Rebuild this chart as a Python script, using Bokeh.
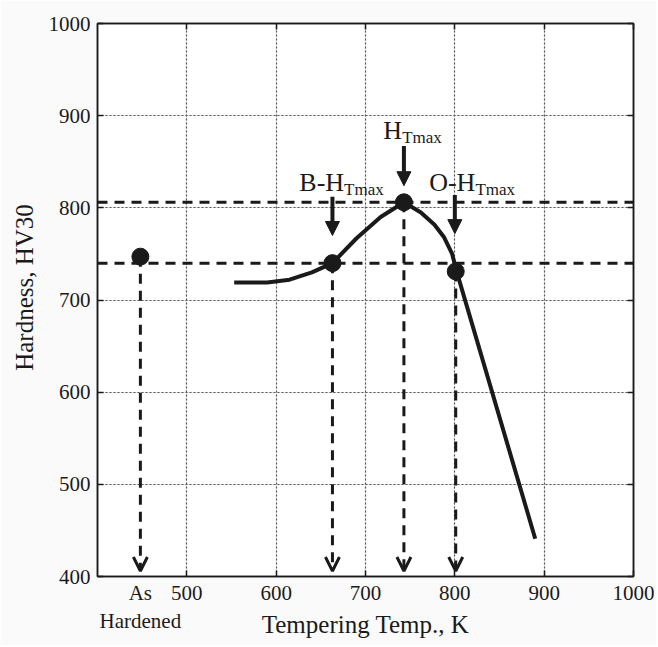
from bokeh.plotting import figure
from bokeh.models import Span, Arrow, NormalHead, OpenHead, FixedTicker, LinearAxis, Range1d, ColumnDataSource, Grid
from bokeh.embed import file_html
from bokeh.resources import INLINE
from bokeh.core.properties import value

# ---- data ----
curve_temp = [553, 590, 615, 640, 663, 690, 717, 743, 762, 777, 788, 797, 802, 890]
curve_hv = [719, 719, 722, 730, 740, 767, 790, 806, 795, 782, 768, 750, 731, 441]

point_temp = [448, 663, 743, 801]
point_hv = [747, 740, 806, 731]

level_hv = [806, 740]          # horizontal dashed reference levels
drop_end_hv = 406              # vertical dashed arrows end here

pointer_temp = [663, 743, 800]
pointer_top_hv = [812, 867, 814]
pointer_tip_hv = [770, 824, 772]

label_main = ["B-H", "H", "O-H"]
label_sub = ["Tmax", "Tmax", "Tmax"]
label_temp = [676, 741, 823]
label_hv = [828, 884, 828]

as_hardened_temp = 448
as_hardened_text = "As\nHardened"

x_ticks = [500, 600, 700, 800, 900, 1000]
y_ticks = [400, 500, 600, 700, 800, 900, 1000]

FONT = "Liberation Serif"
INK = "#1a1a1a"
BG = "#fafafa"
NB = "\u00a0"

p = figure(width=656, height=645, output_backend="svg", toolbar_location=None,
           x_range=Range1d(400, 1000), y_range=Range1d(400, 1000),
           x_axis_location=None, y_axis_location=None,
           min_border_left=97, min_border_right=23, min_border_top=23, min_border_bottom=69)
p.background_fill_color = "white"
p.border_fill_color = BG
p.outline_line_color = INK
p.outline_line_width = 1.5

common = dict(minor_tick_line_color=None, axis_line_color=INK, axis_line_width=1.5,
              major_tick_line_color=INK, major_tick_line_width=1.5)
hidden_labels = dict(major_label_text_font_size="0px", major_label_text_color=None,
                     major_label_standoff=0)

# inner tick-only axes (box ticks pointing inward)
p.add_layout(LinearAxis(ticker=FixedTicker(ticks=x_ticks), major_tick_in=6, major_tick_out=0,
                        **common, **hidden_labels), "below")
p.add_layout(LinearAxis(ticker=FixedTicker(ticks=x_ticks), major_tick_in=6, major_tick_out=0,
                        **common, **hidden_labels), "above")
p.add_layout(LinearAxis(ticker=FixedTicker(ticks=y_ticks), major_tick_in=6, major_tick_out=0,
                        **common, **hidden_labels), "right")

# left axis with labels
p.add_layout(LinearAxis(ticker=FixedTicker(ticks=y_ticks), major_tick_in=6, major_tick_out=0,
                        **common,
                        major_label_text_font=FONT, major_label_text_font_size="21px",
                        major_label_text_color=INK, major_label_standoff=7,
                        axis_label=NB * 4 + "Hardness, HV30", axis_label_text_font=FONT,
                        axis_label_text_font_size="25px", axis_label_text_font_style="normal",
                        axis_label_text_color=INK, axis_label_standoff=8), "left")

# bottom labelled axis (no line, no ticks), includes the "As Hardened" category
bottom_ticks = [as_hardened_temp] + x_ticks
p.add_layout(LinearAxis(ticker=FixedTicker(ticks=bottom_ticks),
                        major_label_overrides={as_hardened_temp: as_hardened_text},
                        axis_line_color=None, major_tick_line_color=None, minor_tick_line_color=None,
                        major_label_text_font=FONT, major_label_text_font_size="21px",
                        major_label_text_color=INK, major_label_standoff=-2,
                        axis_label="Tempering Temp., K", axis_label_text_font=FONT,
                        axis_label_text_font_size="25px", axis_label_text_font_style="normal",
                        axis_label_text_color=INK, axis_label_standoff=-25), "below")

# grid
for dim, tk in [(0, x_ticks), (1, y_ticks)]:
    p.add_layout(Grid(dimension=dim, ticker=FixedTicker(ticks=tk), grid_line_color="#555555",
                      grid_line_dash="2 2", grid_line_width=1.2))

# horizontal dashed levels
for h in level_hv:
    p.add_layout(Span(location=h, dimension="width", line_color=INK, line_width=3,
                      line_dash="10 7"))

# vertical dashed arrows
for t, h in zip(point_temp, point_hv):
    p.add_layout(Arrow(x_start=t, y_start=h, x_end=t, y_end=drop_end_hv,
                       line_color=INK, line_width=3, line_dash="10 7",
                       end=OpenHead(size=14, line_color=INK, line_width=3)))

# curve
p.line(curve_temp, curve_hv, line_color=INK, line_width=4)

# points
p.scatter(point_temp, point_hv, size=17, marker="circle", fill_color=INK, line_color=INK)

# solid pointer arrows
for t, a, b in zip(pointer_temp, pointer_top_hv, pointer_tip_hv):
    p.add_layout(Arrow(x_start=t, y_start=a, x_end=t, y_end=b, line_color=INK, line_width=4,
                       end=NormalHead(size=14, fill_color=INK, line_color=INK, line_width=1)))

# labels with subscripts
src = ColumnDataSource(dict(x=label_temp, y=label_hv, main=label_main, sub=label_sub))
p.text(x="x", y="y", text="main", source=src, text_font=value(FONT), text_font_size="26px",
       text_align="right", text_baseline="alphabetic", text_color=INK)
p.text(x="x", y="y", text="sub", source=src, text_font=value(FONT), text_font_size="17px",
       text_align="left", text_baseline="alphabetic", text_color=INK, y_offset=7)

open("out.html", "w").write(file_html(p, INLINE))
